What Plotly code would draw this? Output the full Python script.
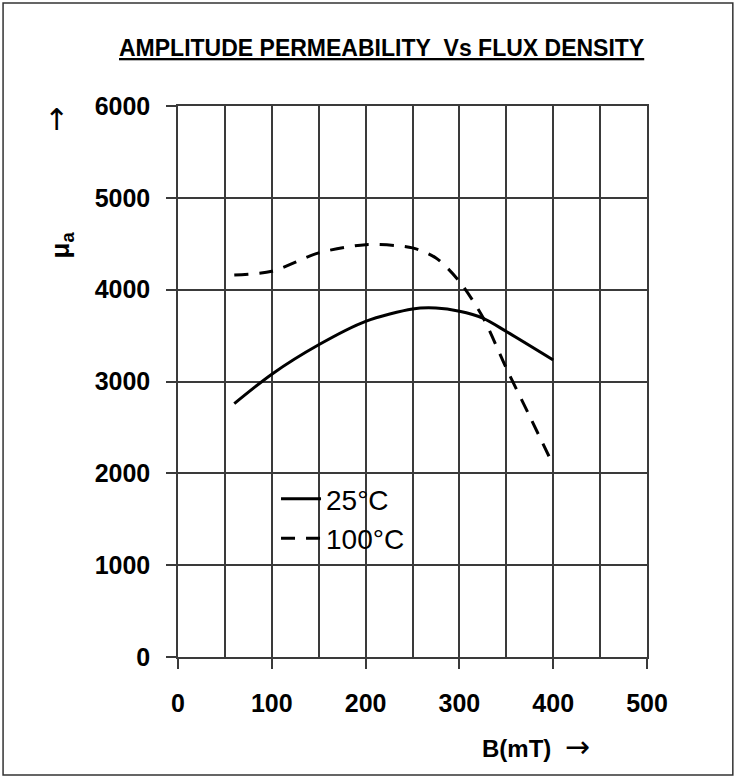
import plotly.graph_objects as go

# Data
b_25 = [60, 100, 150, 200, 250, 275, 300, 325, 350, 400]
mu_25 = [2760, 3080, 3400, 3655, 3790, 3800, 3765, 3690, 3545, 3235]

b_100 = [60, 100, 150, 200, 250, 275, 300, 325, 350, 375, 400]
mu_100 = [4160, 4200, 4400, 4490, 4455, 4345, 4090, 3700, 3145, 2620, 2090]

x_ticks = [0, 100, 200, 300, 400, 500]
y_ticks = [0, 1000, 2000, 3000, 4000, 5000, 6000]

FONT = "Liberation Sans"
ARROW = "DejaVu Sans"
GRID = "#3a3a3a"

fig = go.Figure()
fig.add_trace(go.Scatter(
    x=b_25, y=mu_25, mode="lines", name="25°C",
    line=dict(color="black", width=3, shape="spline", smoothing=0.8),
))
fig.add_trace(go.Scatter(
    x=b_100, y=mu_100, mode="lines", name="100°C",
    line=dict(color="black", width=3, dash="14px,11px", shape="spline", smoothing=0.8),
))

fig.update_layout(
    width=736, height=777,
    margin=dict(l=178, r=89, t=106, b=120),
    paper_bgcolor="white", plot_bgcolor="white",
    font=dict(family=FONT, color="black"),
    showlegend=True,
    legend=dict(
        x=0.209, y=0.332, xanchor="left", yanchor="top",
        bgcolor="rgba(0,0,0,0)", borderwidth=0,
        font=dict(family=FONT, size=28, color="black"),
        itemwidth=40,
    ),
)

fig.update_xaxes(
    range=[0, 500], tickmode="array", tickvals=x_ticks,
    ticks="outside", ticklen=10, tickwidth=1.5, tickcolor=GRID,
    showgrid=True, gridcolor=GRID, gridwidth=1.5,
    minor=dict(dtick=50, tick0=0, showgrid=True, gridcolor=GRID, gridwidth=1.5, ticks=""),
    showline=True, linecolor=GRID, linewidth=1.5, mirror=True,
    zeroline=False,
    tickfont=dict(family=FONT, size=25, color="black", weight="bold"),
    ticklabelstandoff=13,
)
fig.update_yaxes(
    range=[0, 6000], tickmode="array", tickvals=y_ticks,
    ticks="outside", ticklen=10, tickwidth=1.5, tickcolor=GRID,
    showgrid=True, gridcolor=GRID, gridwidth=1.5,
    showline=True, linecolor=GRID, linewidth=1.5, mirror=True,
    zeroline=False,
    tickfont=dict(family=FONT, size=25, color="black", weight="bold"),
    ticklabelstandoff=11,
)

# white box behind the legend (covers gridlines)
fig.add_shape(type="rect", xref="paper", yref="paper",
              x0=0.205, x1=0.495, y0=0.172, y1=0.327,
              fillcolor="white", line=dict(width=0), layer="between")

# outer frame
fig.add_shape(type="rect", xref="paper", yref="paper",
              x0=-0.373, x1=1.183, y0=-0.214, y1=1.187,
              line=dict(color="#333333", width=1.5), fillcolor="rgba(0,0,0,0)")

fig.add_annotation(
    text="<b><u>AMPLITUDE PERMEABILITY\u00a0\u00a0Vs FLUX DENSITY</u></b>",
    xref="paper", yref="paper", x=0.434, y=1.105,
    xanchor="center", yanchor="middle", showarrow=False,
    font=dict(family=FONT, size=23, color="black"),
)
fig.add_annotation(
    text="↑", xref="paper", yref="paper", x=-0.258, y=0.975,
    xanchor="center", yanchor="middle", showarrow=False,
    font=dict(family=ARROW, size=30, color="black"),
)
fig.add_annotation(
    text="<b>μ<sub>a</sub></b>", xref="paper", yref="paper", x=-0.248, y=0.748,
    xanchor="center", yanchor="middle", showarrow=False, textangle=-90,
    font=dict(family=FONT, size=26, color="black"),
)
fig.add_annotation(
    text="<b>B(mT)</b>\u00a0\u00a0<span style='font-family:DejaVu Sans;font-size:30px'>→</span>",
    xref="paper", yref="paper", x=0.763, y=-0.163,
    xanchor="center", yanchor="middle", showarrow=False,
    font=dict(family=FONT, size=24, color="black"),
)

fig.write_html(
    "out.html",
    config={"displayModeBar": False},
    post_script="document.body.style.margin='0';document.body.style.overflow='hidden';",
)
